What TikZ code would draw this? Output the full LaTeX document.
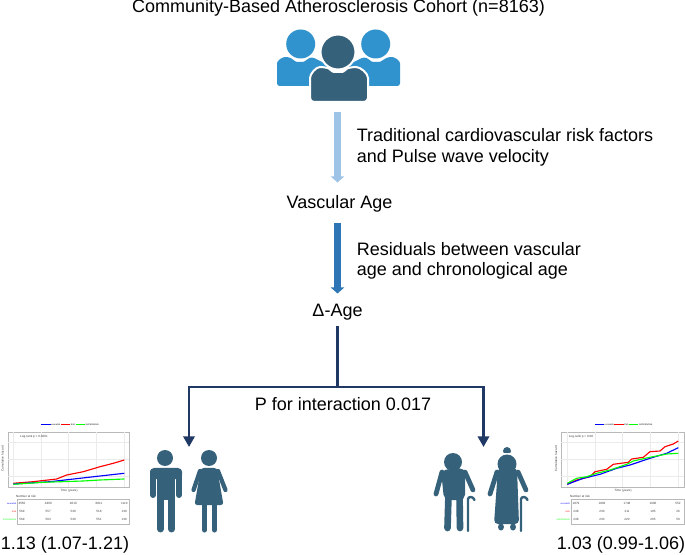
\documentclass[tikz,border=0pt]{standalone}
\usepackage{xcolor}
\usepackage{fontspec}
\setmainfont{Liberation Sans}
\usetikzlibrary{arrows.meta}

\definecolor{darkfig}{RGB}{54,97,122}
\definecolor{lightfig}{RGB}{49,147,206}
\definecolor{paleflow}{RGB}{157,195,230}
\definecolor{midflow}{RGB}{46,117,182}
\definecolor{darkflow}{RGB}{31,56,100}
\definecolor{gridline}{RGB}{235,235,235}
\definecolor{boxline}{RGB}{185,185,185}

\tikzset{
    caption/.style={font=\fontsize{13.5}{15}\selectfont, inner sep=0pt},
    thick flow/.style={line width=5pt, -{Triangle[length=4.6pt,width=10pt]}},
    split flow/.style={darkflow, line width=2.2pt},
    limb/.style={darkfig, line cap=round, line join=round},
    tiny/.style={font=\fontsize{2.3}{2.6}\selectfont, inner sep=0pt, text=black!75},
    tinier/.style={font=\fontsize{1.6}{2}\selectfont, inner sep=0pt},
    panel/.style={draw=boxline, line width=0.7pt, fill=white},
    curve/.style={line width=0.85pt, line join=round}
}

\begin{document}
\begin{tikzpicture}[x=0.75pt,y=-0.75pt]
    \useasboundingbox (0,0) rectangle (685,555);

    % texts and flow
    \node[caption, anchor=base] (cohort) at (338.5,12.5) {Community-Based Atherosclerosis Cohort (n=8163)};
    \node[caption, anchor=west] (riskone) at (356.5,135.5) {Traditional cardiovascular risk factors};
    \node[caption, anchor=west] (risktwo) at (356.5,157.5) {and Pulse wave velocity};
    \node[caption] (vascular) at (339.5,204) {Vascular Age};
    \node[caption, anchor=west] (resone) at (356.5,249) {Residuals between vascular};
    \node[caption, anchor=west] (restwo) at (356.5,271) {age and chronological age};
    \node[caption] (delta) at (337.5,312) {Δ-Age};
    \node[caption] (interaction) at (343,404) {P for interaction 0.017};
    \node[caption] (hrleft) at (65,545) {1.13 (1.07-1.21)};
    \node[caption] (hrright) at (621,545) {1.03 (0.99-1.06)};

    \coordinate (groupbase) at (337.5,112);
    \coordinate (vascualtop) at (337.5,182.5);
    \coordinate (vascualbase) at (337.5,223);
    \coordinate (deltatop) at (337.5,293.5);
    \coordinate (deltabase) at (337.7,326.5);
    \coordinate (split) at (337.7,387);
    \coordinate (younghead) at (189,447);
    \coordinate (oldhead) at (483.5,447);

    \draw[thick flow, paleflow] (groupbase) -- (vascualtop);
    \draw[thick flow, midflow] (vascualbase) -- (deltatop);
    \draw[split flow] (deltabase) -- (split);
    \draw[split flow, -{Triangle[length=8pt,width=8.4pt]}] (split) -| (younghead);
    \draw[split flow, -{Triangle[length=8pt,width=8.4pt]}] (split) -| (oldhead);

    % group of three
    \fill[lightfig] (300.7,44) circle (14.5);
    \fill[lightfig] (375.7,44) circle (14.5);
    \fill[lightfig, rounded corners=2pt] (277,86) -- (277,66) to[out=90,in=180] (288,57)
        to[out=-20,in=180] (300,62) to[out=0,in=200] (312,57) -- (330,66) -- (330,86) -- cycle;
    \fill[lightfig, rounded corners=2pt] (400,86) -- (400,66) to[out=90,in=0] (389,57)
        to[out=200,in=0] (376,62) to[out=180,in=-20] (364,57) -- (346,66) -- (346,86) -- cycle;
    \fill[darkfig, draw=white, line width=1.5pt] (338,52) circle (17.5);
    \fill[darkfig, draw=white, line width=1.5pt, rounded corners=3pt] (310,102) -- (310,82)
        to[out=90,in=180] (324,67) to[out=-15,in=180] (338,72) to[out=0,in=195] (352,67)
        to[out=0,in=90] (368,82) -- (368,102) -- cycle;

    % young man
    \fill[darkfig] (165,458) circle (8);
    \fill[darkfig, rounded corners=3pt] (150,479) -- (150,468) -- (182,468) -- (182,479) -- cycle;
    \fill[darkfig] (157,470) rectangle (175,500);
    \draw[limb, line width=4.5pt] (153,472) -- (153,495);
    \draw[limb, line width=4.5pt] (179,472) -- (179,495);
    \draw[limb, line width=5.2pt] (160.5,495) -- (160.5,529);
    \draw[limb, line width=5.2pt] (171.5,495) -- (171.5,529);

    % young woman
    \fill[darkfig] (209,458) circle (8);
    \fill[darkfig, rounded corners=2pt] (201,468) -- (217,468) -- (223.5,505) -- (194.5,505) -- cycle;
    \draw[limb, line width=3.2pt] (200,471) -- (193.5,490);
    \draw[limb, line width=3.2pt] (218,471) -- (225.5,490);
    \draw[limb, line width=3.8pt] (204.5,505) -- (204.5,530);
    \draw[limb, line width=3.8pt] (214.5,505) -- (214.5,530);

    % old man
    \fill[darkfig] (453,462) circle (9);
    \fill[darkfig, rounded corners=4pt] (441,470) -- (465,468) -- (465,500) -- (444,500) -- cycle;
    \draw[limb, line width=3.6pt] (442,472) -- (436,494);
    \draw[limb, line width=3.6pt] (465,472) -- (473,490);
    \draw[limb, line width=5pt] (448.5,495) -- (447.5,528);
    \draw[limb, line width=5pt] (459.5,495) -- (460,528);
    \draw[limb, line width=1.8pt] (468,531) -- (468,499) to[out=90,in=180] (471,497) to[out=0,in=120] (474.5,500);

    % old woman
    \fill[darkfig] (507,451) circle (4);
    \fill[white] (499,453) rectangle (515,455);
    \fill[darkfig] (507,464) circle (9.5);
    \fill[darkfig, rounded corners=3pt] (498,468) -- (517,468) -- (519,524) -- (494,524) -- cycle;
    \draw[limb, line width=3.6pt] (497,472) -- (490,494);
    \draw[limb, line width=3.6pt] (518,472) -- (526,490);
    \fill[darkfig] (501,527) ellipse (3 and 3.5);
    \fill[darkfig] (513,527) ellipse (3 and 3.5);
    \draw[limb, line width=1.8pt] (521,531) -- (521,499) to[out=90,in=180] (524,497) to[out=0,in=120] (527.5,500);

    % left curves
    \draw[panel] (8,432) rectangle (129,487);
    \foreach \xval in {13.3,41,68.5,96,124} \draw[gridline, line width=0.3pt] (\xval,432) -- (\xval,487);
    \foreach \yval in {442,459,476} \draw[gridline, line width=0.3pt] (8,\yval) -- (129,\yval);
    \draw[curve, red] (13.3,483.3) -- (33,481.7) -- (56.7,479) -- (66.7,475) -- (83.3,471.7) -- (100,466.7) -- (113.3,463.3) -- (124.3,460);
    \draw[curve, blue] (13.3,484) -- (50,481.7) -- (100,476) -- (124.3,473.3);
    \draw[curve, green] (13.3,484.3) -- (43.3,482.3) -- (83.3,481) -- (100,480) -- (124.3,479);
    \node[tiny] (logleft) at (34,437) {Log-rank p < 0.0001};
    \node[tinier] (legendleft) at (70,425) {\textcolor{blue}{\rule[0.5pt]{7pt}{0.6pt}} normalVA \textcolor{red}{\rule[0.5pt]{7pt}{0.6pt}} EVA \textcolor{green}{\rule[0.5pt]{7pt}{0.6pt}} SUPERNOVA};
    \node[tiny] (timeleft) at (69,491) {Time (years)};
    \node[tiny, rotate=90] (hazleft) at (2.5,459) {Cumulative hazard};
    \node[tiny] (riskleft) at (26,496) {Number at risk};
    \draw[panel] (17.3,499) rectangle (129,524);
    \foreach \xval/\one/\two/\three in {22/4550/569/569,48.3/4400/557/563,73.3/4010/539/539,99/6811/518/551,124.3/1110/139/130} {
        \node[tiny] at (\xval,503.5) {\one};
        \node[tiny] at (\xval,511.5) {\two};
        \node[tiny] at (\xval,519.5) {\three};
    }
    \node[tinier, text=blue, anchor=east] at (16.5,503.5) {normalVA};
    \node[tinier, text=red, anchor=east] at (16.5,511.5) {EVA};
    \node[tinier, text=green, anchor=east] at (16.5,519.5) {SUPERNOVA};

    % right curves
    \draw[panel] (561,432) rectangle (684,487);
    \foreach \xval in {567.3,595,622.5,650,678} \draw[gridline, line width=0.3pt] (\xval,432) -- (\xval,487);
    \foreach \yval in {442,459,476} \draw[gridline, line width=0.3pt] (561,\yval) -- (684,\yval);
    \draw[curve, red] (567.3,484.3) -- (576.7,480) -- (590,476.7) -- (595,471.7) -- (606.7,469.3) -- (613.3,464.3) -- (628.3,462.3) -- (631.7,459) -- (643.3,457.3) -- (650,451.7) -- (660,451) -- (665,446.7) -- (673.3,444) -- (678.3,441);
    \draw[curve, blue] (567.3,484.3) -- (583.3,478.3) -- (600,474.3) -- (616.7,468.3) -- (630,465) -- (650,458.3) -- (666.7,453.3) -- (678.3,447.7);
    \draw[curve, green] (567.3,483.3) -- (576.7,478.3) -- (586.7,476.7) -- (596.7,473.3) -- (610,470) -- (626.7,464.3) -- (633.3,461) -- (650,457.3) -- (666.7,454) -- (678.3,453.3);
    \node[tiny] (logright) at (581,437) {Log-rank p = 0.08};
    \node[tinier] (legendright) at (623.5,425) {\textcolor{blue}{\rule[0.5pt]{7pt}{0.6pt}} normalVA \textcolor{red}{\rule[0.5pt]{7pt}{0.6pt}} EVA \textcolor{green}{\rule[0.5pt]{7pt}{0.6pt}} SUPERNOVA};
    \node[tiny] (timeright) at (623,491) {Time (years)};
    \node[tiny, rotate=90] (hazright) at (556,459) {Cumulative hazard};
    \node[tiny] (riskright) at (580,496) {Number at risk};
    \draw[panel] (571,499) rectangle (684,524);
    \foreach \xval/\one/\two/\three in {576/1879/248/248,602/1803/230/233,627/1748/211/220,653/1600/195/205,678/552/26/59} {
        \node[tiny] at (\xval,503.5) {\one};
        \node[tiny] at (\xval,511.5) {\two};
        \node[tiny] at (\xval,519.5) {\three};
    }
    \node[tinier, text=blue, anchor=east] at (570,503.5) {normalVA};
    \node[tinier, text=red, anchor=east] at (570,511.5) {EVA};
    \node[tinier, text=green, anchor=east] at (570,519.5) {SUPERNOVA};
\end{tikzpicture}
\end{document}
